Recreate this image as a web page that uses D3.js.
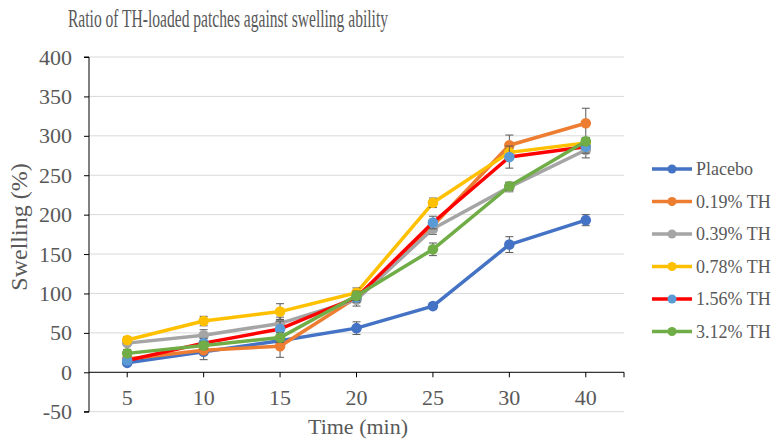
<!DOCTYPE html>
<html>
<head>
<meta charset="utf-8">
<script src="https://cdn.jsdelivr.net/npm/d3@7"></script>
<style>
  body { margin: 0; background: #fff; }
  text { font-family: "Liberation Serif", "Times New Roman", serif; fill: #595959; }
</style>
</head>
<body>
<svg width="777" height="439"></svg>
<script>
const times = ["5", "10", "15", "20", "25", "30", "40"];
const yTicks = [-50, 0, 50, 100, 150, 200, 250, 300, 350, 400];

const seriesNames = ["Placebo", "0.19% TH", "0.39% TH", "0.78% TH", "1.56% TH", "3.12% TH"];
const lineColors = ["#4472C4", "#ED7D31", "#A5A5A5", "#FFC000", "#FF0000", "#70AD47"];
const markerColors = ["#4472C4", "#ED7D31", "#A5A5A5", "#FFC000", "#5B9BD5", "#70AD47"];

const placebo = [12, 26, 40, 56, 84, 162, 193];
const th019 = [17, 28, 33, 95, 186, 288, 316];
const th039 = [37, 47, 62, 92, 182, 235, 282];
const th078 = [41, 65, 77, 101, 215, 279, 291];
const th156 = [15, 37, 55, 95, 190, 273, 286];
const th312 = [24, 34, 44, 97, 156, 236, 293];

const errPlacebo = [3, 10, 6, 8, 4, 10, 7];
const err019 = [4, 5, 14, 6, 8, 13, 19];
const err039 = [8, 7, 8, 8, 7, 6, 10];
const err078 = [4, 6, 10, 6, 6, 5, 6];
const err156 = [4, 6, 10, 6, 8, 14, 8];
const err312 = [4, 5, 6, 6, 8, 5, 5];

const allValues = [placebo, th019, th039, th078, th156, th312];
const allErrors = [errPlacebo, err019, err039, err078, err156, err312];

const svg = d3.select("svg");
const plotLeft = 89, plotRight = 624, plotTop = 57, plotBottom = 411.7;

const x = d3.scaleBand().domain(times).range([plotLeft, plotRight]).padding(0);
const cx = d => x(d) + x.bandwidth() / 2;
const y = d3.scaleLinear().domain([-50, 400]).range([plotBottom, plotTop]);

// gridlines
svg.append("g").selectAll("line")
  .data(yTicks.filter(t => t !== 0))
  .enter().append("line")
  .attr("x1", plotLeft).attr("x2", plotRight)
  .attr("y1", d => y(d)).attr("y2", d => y(d))
  .attr("stroke", "#d9d9d9").attr("stroke-width", 1);

// y axis
const yAxis = svg.append("g").attr("transform", `translate(${plotLeft},0)`)
  .call(d3.axisLeft(y).tickValues(yTicks).tickFormat(d => String(d)).tickSize(5).tickPadding(12));
yAxis.attr("font-family", null);
yAxis.select(".domain").attr("stroke", "#000").attr("d", `M-5,${y(400)}H0V${y(-50)}H-5`);
yAxis.selectAll(".tick line").attr("stroke", "#000");
yAxis.selectAll(".tick text").style("font-size", "22px").attr("fill", "#595959");

// x axis at zero
const xAxis = svg.append("g").attr("transform", `translate(0,${y(0)})`)
  .call(d3.axisBottom(x).tickSize(5).tickPadding(12));
xAxis.attr("font-family", null);
xAxis.select(".domain").attr("stroke", "#000").attr("d", `M${plotLeft},0H${plotRight}V5`);
xAxis.selectAll(".tick line").attr("stroke", "#000");
xAxis.selectAll(".tick text").style("font-size", "22px").attr("fill", "#595959");

// titles
svg.append("text").attr("x", 228).attr("y", 27).attr("text-anchor", "middle")
  .attr("textLength", 320).attr("lengthAdjust", "spacingAndGlyphs")
  .style("font-size", "25px").text("Ratio of TH-loaded patches against swelling ability");
svg.append("text").attr("x", 358).attr("y", 434).attr("text-anchor", "middle")
  .style("font-size", "22px").text("Time (min)");
svg.append("text").attr("transform", "translate(27,227) rotate(-90)").attr("text-anchor", "middle")
  .style("font-size", "24px").text("Swelling (%)");

// series
const line = d3.line().x((d, i) => cx(times[i])).y(d => y(d));
allValues.forEach((vals, s) => {
  const g = svg.append("g");
  g.append("path").datum(vals).attr("d", line)
    .attr("fill", "none").attr("stroke", lineColors[s]).attr("stroke-width", 3.5)
    .attr("stroke-linejoin", "round");
  const errs = allErrors[s];
  const eb = g.selectAll(".eb").data(vals).enter().append("g").attr("class", "eb");
  eb.append("line").attr("x1", (d, i) => cx(times[i])).attr("x2", (d, i) => cx(times[i]))
    .attr("y1", (d, i) => y(d - errs[i])).attr("y2", (d, i) => y(d + errs[i]))
    .attr("stroke", "#595959").attr("stroke-width", 1);
  [-1, 1].forEach(sign => {
    eb.append("line").attr("x1", (d, i) => cx(times[i]) - 4).attr("x2", (d, i) => cx(times[i]) + 4)
      .attr("y1", (d, i) => y(d + sign * errs[i])).attr("y2", (d, i) => y(d + sign * errs[i]))
      .attr("stroke", "#595959").attr("stroke-width", 1);
  });
  g.selectAll("circle").data(vals).enter().append("circle")
    .attr("cx", (d, i) => cx(times[i])).attr("cy", d => y(d))
    .attr("r", 5.3).attr("fill", markerColors[s]);
});

// legend
const legend = svg.append("g").attr("transform", "translate(652,169)");
seriesNames.forEach((name, i) => {
  const row = legend.append("g").attr("transform", `translate(0,${i * 32.5})`);
  row.append("line").attr("x1", 0).attr("x2", 40).attr("y1", 0).attr("y2", 0)
    .attr("stroke", lineColors[i]).attr("stroke-width", 3.5);
  row.append("circle").attr("cx", 20).attr("cy", 0).attr("r", 4.5).attr("fill", markerColors[i]);
  row.append("text").attr("x", 44).attr("y", 6).style("font-size", "18px").text(name);
});
</script>
</body>
</html>
